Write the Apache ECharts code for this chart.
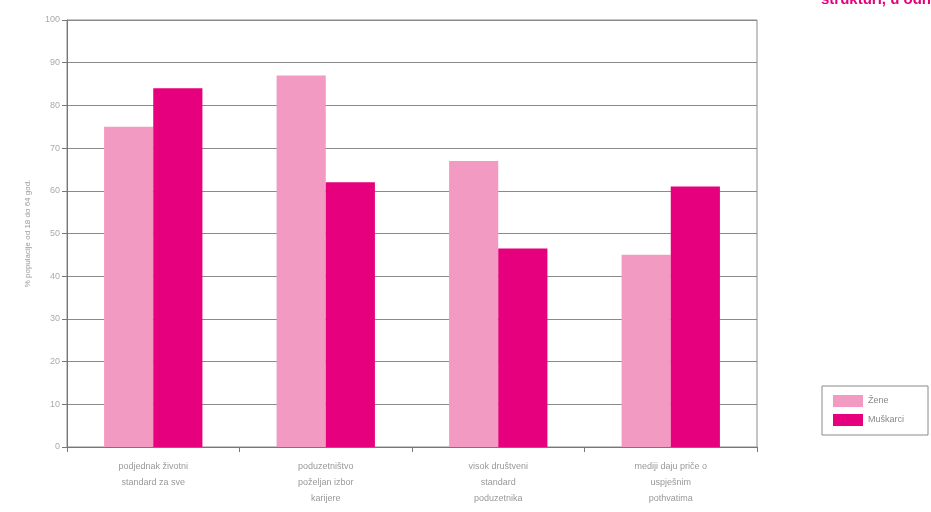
<!DOCTYPE html>
<html>
<head>
<meta charset="utf-8">
<script src="https://cdn.jsdelivr.net/npm/echarts@6/dist/echarts.min.js"></script>
<style>html,body{margin:0;padding:0;background:#fff}#c{width:931px;height:512px}</style>
</head>
<body>
<div id="c"></div>
<script>
const categories = ['podjednak životni\nstandard za sve', 'poduzetništvo\npoželjan izbor\nkarijere', 'visok društveni\nstandard\npoduzetnika', 'mediji daju priče o\nuspješnim\npothvatima'];
const zene = [75, 87, 67, 45];
const muskarci = [84, 62, 46.5, 61];
const seriesNames = ['Žene', 'Muškarci'];
const yTicks = [0, 10, 20, 30, 40, 50, 60, 70, 80, 90, 100];
const yTitle = '% populacije od 18 do 64 god.';

const chart = echarts.init(document.getElementById('c'), null, {renderer: 'canvas'});
chart.setOption({
  animation: false,
  color: ['#f39ac2', '#e6007e'],
  grid: {left: 67, right: 174, top: 20, bottom: 65, show: true, borderColor: '#8a8a8a', borderWidth: 1},
  legend: {
    left: 822, top: 386, orient: 'vertical', itemWidth: 30, itemHeight: 12, itemGap: 7,
    icon: 'rect',
    borderColor: '#8a8a8a', borderWidth: 1, padding: [9, 24, 9, 11],
    textStyle: {fontSize: 9, color: '#888', fontFamily: 'Liberation Sans'},
    data: seriesNames
  },
  xAxis: {
    type: 'category', data: categories,
    axisLine: {lineStyle: {color: '#777'}},
    axisTick: {show: true, length: 5, lineStyle: {color: '#777'}},
    axisLabel: {color: '#999', fontSize: 9, lineHeight: 16, margin: 12, fontFamily: 'Liberation Sans', interval: 0}
  },
  yAxis: {
    type: 'value', min: 0, max: 100, interval: 10,
    name: yTitle, nameLocation: 'middle', nameGap: 35, nameRotate: 90,
    nameTextStyle: {color: '#999', fontSize: 8, fontFamily: 'Liberation Sans'},
    axisLine: {show: true, lineStyle: {color: '#777'}},
    axisTick: {show: true, length: 5, lineStyle: {color: '#777'}},
    axisLabel: {color: '#aaa', fontSize: 9, margin: 7, fontFamily: 'Liberation Sans',
      formatter: v => yTicks.includes(v) ? String(v) : ''},
    splitLine: {lineStyle: {color: '#8a8a8a', width: 1}}
  },
  series: [
    {name: seriesNames[0], type: 'bar', data: zene, barGap: '0%', barCategoryGap: '43%'},
    {name: seriesNames[1], type: 'bar', data: muskarci, barGap: '0%', barCategoryGap: '43%'}
  ],
  graphic: [{
    type: 'text', left: 821, top: -8,
    style: {text: 'strukturi, u odnosu', fill: '#e4007f', fontSize: 15, fontWeight: 'bold', fontFamily: 'Liberation Sans'}
  }]
});
</script>
</body>
</html>
